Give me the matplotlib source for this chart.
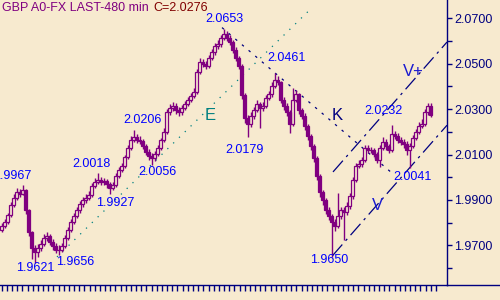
import numpy as np
import matplotlib.pyplot as plt
from matplotlib.lines import Line2D

# GBP A0-FX LAST, 480 min candles
opens = [1.9770, 1.9786, 1.9804, 1.9834, 1.9878, 1.9909, 1.9935, 1.9927, 1.9944, 1.9856, 1.9759, 1.9689,
         1.9671, 1.9689, 1.9706, 1.9733, 1.9742, 1.9715, 1.9698, 1.9680, 1.9680, 1.9698, 1.9733, 1.9768,
         1.9804, 1.9830, 1.9856, 1.9882, 1.9900, 1.9909, 1.9922, 1.9962, 1.9979, 1.9988, 1.9979, 1.9984,
         1.9970, 1.9953, 1.9966, 2.0006, 2.0032, 2.0050, 2.0089, 2.0129, 2.0164, 2.0177, 2.0164, 2.0160,
         2.0138, 2.0111, 2.0094, 2.0085, 2.0102, 2.0129, 2.0164, 2.0199, 2.0287, 2.0305, 2.0314, 2.0296,
         2.0287, 2.0305, 2.0322, 2.0340, 2.0358, 2.0375, 2.0463, 2.0507, 2.0498, 2.0490, 2.0525, 2.0551,
         2.0578, 2.0586, 2.0613, 2.0630, 2.0613, 2.0595, 2.0560, 2.0525, 2.0490, 2.0362, 2.0261, 2.0234,
         2.0270, 2.0296, 2.0322, 2.0305, 2.0314, 2.0349, 2.0366, 2.0402, 2.0428, 2.0419, 2.0340, 2.0314,
         2.0287, 2.0234, 2.0340, 2.0366, 2.0296, 2.0270, 2.0226, 2.0182, 2.0138, 2.0085, 2.0006, 1.9935,
         1.9900, 1.9856, 1.9830, 1.9804, 1.9786, 1.9830, 1.9856, 1.9847, 1.9874, 1.9918, 1.9988, 2.0050,
         2.0058, 2.0076, 2.0129, 2.0120, 2.0120, 2.0102, 2.0076, 2.0129, 2.0155, 2.0138, 2.0120, 2.0190,
         2.0182, 2.0164, 2.0155, 2.0146, 2.0120, 2.0138, 2.0173, 2.0199, 2.0226, 2.0234, 2.0287, 2.0314]
closes = [1.9786, 1.9804, 1.9834, 1.9878, 1.9909, 1.9935, 1.9927, 1.9944, 1.9856, 1.9759, 1.9689, 1.9671,
          1.9689, 1.9706, 1.9733, 1.9742, 1.9715, 1.9698, 1.9680, 1.9680, 1.9698, 1.9733, 1.9768, 1.9804,
          1.9830, 1.9856, 1.9882, 1.9900, 1.9909, 1.9922, 1.9962, 1.9979, 1.9988, 1.9979, 1.9984, 1.9970,
          1.9953, 1.9966, 2.0006, 2.0032, 2.0050, 2.0089, 2.0129, 2.0164, 2.0177, 2.0164, 2.0160, 2.0138,
          2.0111, 2.0094, 2.0085, 2.0102, 2.0129, 2.0164, 2.0199, 2.0287, 2.0305, 2.0314, 2.0296, 2.0287,
          2.0305, 2.0322, 2.0340, 2.0358, 2.0375, 2.0463, 2.0507, 2.0498, 2.0490, 2.0525, 2.0551, 2.0578,
          2.0586, 2.0613, 2.0630, 2.0613, 2.0595, 2.0560, 2.0525, 2.0490, 2.0362, 2.0261, 2.0234, 2.0270,
          2.0296, 2.0322, 2.0305, 2.0314, 2.0349, 2.0366, 2.0402, 2.0428, 2.0419, 2.0340, 2.0314, 2.0287,
          2.0234, 2.0340, 2.0366, 2.0296, 2.0270, 2.0226, 2.0182, 2.0138, 2.0085, 2.0006, 1.9935, 1.9900,
          1.9856, 1.9830, 1.9804, 1.9786, 1.9830, 1.9856, 1.9847, 1.9874, 1.9918, 1.9988, 2.0050, 2.0058,
          2.0076, 2.0129, 2.0120, 2.0120, 2.0102, 2.0076, 2.0129, 2.0155, 2.0138, 2.0120, 2.0190, 2.0182,
          2.0164, 2.0155, 2.0146, 2.0120, 2.0138, 2.0173, 2.0199, 2.0226, 2.0234, 2.0287, 2.0314, 2.0276]
highs = [1.9800, 1.9818, 1.9845, 1.9890, 1.9925, 1.9955, 1.9950, 1.9967, 1.9950, 1.9862, 1.9765, 1.9700,
         1.9705, 1.9722, 1.9752, 1.9760, 1.9750, 1.9728, 1.9712, 1.9700, 1.9712, 1.9745, 1.9780, 1.9815,
         1.9842, 1.9870, 1.9895, 1.9915, 1.9925, 1.9940, 1.9975, 1.9995, 2.0018, 2.0000, 1.9998, 1.9992,
         1.9978, 1.9980, 2.0018, 2.0045, 2.0065, 2.0100, 2.0142, 2.0180, 2.0206, 2.0192, 2.0182, 2.0170,
         2.0145, 2.0125, 2.0105, 2.0115, 2.0140, 2.0175, 2.0215, 2.0300, 2.0322, 2.0330, 2.0325, 2.0308,
         2.0318, 2.0335, 2.0352, 2.0370, 2.0392, 2.0478, 2.0525, 2.0520, 2.0510, 2.0538, 2.0565, 2.0592,
         2.0605, 2.0628, 2.0653, 2.0645, 2.0625, 2.0605, 2.0572, 2.0535, 2.0498, 2.0370, 2.0275, 2.0285,
         2.0310, 2.0338, 2.0332, 2.0330, 2.0362, 2.0380, 2.0418, 2.0461, 2.0445, 2.0425, 2.0352, 2.0325,
         2.0295, 2.0393, 2.0385, 2.0372, 2.0305, 2.0282, 2.0235, 2.0190, 2.0145, 2.0092, 2.0015, 1.9945,
         1.9910, 1.9868, 1.9840, 1.9815, 1.9930, 1.9870, 1.9868, 1.9890, 1.9930, 2.0002, 2.0065, 2.0075,
         2.0090, 2.0142, 2.0140, 2.0135, 2.0130, 2.0110, 2.0140, 2.0177, 2.0168, 2.0148, 2.0232, 2.0205,
         2.0195, 2.0178, 2.0170, 2.0158, 2.0150, 2.0188, 2.0212, 2.0242, 2.0255, 2.0300, 2.0328, 2.0325]
lows = [1.9760, 1.9775, 1.9795, 1.9825, 1.9868, 1.9900, 1.9915, 1.9920, 1.9840, 1.9740, 1.9640, 1.9621,
        1.9650, 1.9675, 1.9698, 1.9720, 1.9700, 1.9680, 1.9665, 1.9656, 1.9670, 1.9690, 1.9725, 1.9760,
        1.9795, 1.9820, 1.9845, 1.9870, 1.9888, 1.9900, 1.9915, 1.9955, 1.9970, 1.9965, 1.9968, 1.9955,
        1.9927, 1.9942, 1.9958, 1.9998, 2.0022, 2.0040, 2.0080, 2.0120, 2.0155, 2.0150, 2.0145, 2.0125,
        2.0098, 2.0078, 2.0056, 2.0072, 2.0095, 2.0120, 2.0155, 2.0190, 2.0275, 2.0292, 2.0280, 2.0270,
        2.0275, 2.0295, 2.0312, 2.0330, 2.0348, 2.0368, 2.0455, 2.0485, 2.0475, 2.0482, 2.0515, 2.0540,
        2.0565, 2.0575, 2.0602, 2.0600, 2.0580, 2.0545, 2.0510, 2.0475, 2.0345, 2.0240, 2.0179, 2.0222,
        2.0258, 2.0285, 2.0215, 2.0292, 2.0305, 2.0338, 2.0355, 2.0392, 2.0405, 2.0325, 2.0298, 2.0270,
        2.0195, 2.0225, 2.0330, 2.0280, 2.0255, 2.0210, 2.0165, 2.0120, 2.0068, 1.9990, 1.9915, 1.9880,
        1.9838, 1.9812, 1.9650, 1.9765, 1.9775, 1.9815, 1.9724, 1.9832, 1.9862, 1.9905, 1.9978, 2.0040,
        2.0045, 2.0068, 2.0105, 2.0105, 2.0088, 2.0062, 2.0045, 2.0120, 2.0122, 2.0105, 2.0112, 2.0168,
        2.0150, 2.0140, 2.0130, 2.0100, 2.0041, 2.0128, 2.0165, 2.0190, 2.0215, 2.0225, 2.0275, 2.0265]

# trend lines: two anchor bars (index, price)
line_e = [(19, 1.9656), (50, 2.0056)]
line_k = [(74, 2.0653), (91, 2.0461)]
line_v = [(110, 1.9650), (136, 2.0041)]
channel_width = 0.0366

# swing labels: text, pixel position
swing_labels = [('2.0653', 224, 19), ('2.0461', 287, 58), ('2.0206', 143, 120),
                ('2.0179', 245, 150), ('1.9967', 31, 176), ('2.0018', 91, 164),
                ('1.9927', 115, 203), ('2.0056', 157, 172), ('1.9621', 35, 268),
                ('1.9656', 75, 262), ('1.9650', 329, 260), ('2.0232', 383, 111),
                ('2.0041', 412, 177)]

bg = '#F7EACF'
purple = '#800080'
navy = '#000080'
W, H = 500, 300

fig = plt.figure(figsize=(5, 3), dpi=100, facecolor=bg)
ax = fig.add_axes([0, 15 / H, 447 / W, 285 / H], facecolor=bg)

o = np.array(opens); c = np.array(closes)
hi = np.array(highs); lo = np.array(lows)
idx = np.arange(len(c))
up = c >= o

ax.vlines(idx, lo, hi, color=purple, lw=1.0, zorder=2)
ax.bar(idx[up], np.maximum(c[up] - o[up], 0.0002), bottom=o[up], width=0.9,
       facecolor=bg, edgecolor=purple, lw=0.9, zorder=3)
ax.bar(idx[~up], o[~up] - c[~up], bottom=c[~up], width=0.9,
       facecolor=purple, edgecolor=purple, lw=0.9, zorder=3)

def trend(anchors, x0, x1, shift=0.0):
    (ia, pa), (ib, pb) = anchors
    slope = (pb - pa) / (ib - ia)
    xs = np.array([x0, x1])
    return xs, pa + slope * (xs - ia) + shift

xs, ys = trend(line_e, 18.5, 102.8)
ax.plot(xs, ys, color='#008080', lw=0.9, linestyle=(0, (1, 5.5)), zorder=1)
xs, ys = trend(line_k, 73.5, 131)
ax.plot(xs, ys, color=navy, lw=0.9, linestyle=(0, (2, 5)), zorder=1)
xs, ys = trend(line_v, 110.3, 148.5)
ax.plot(xs, ys, color=navy, lw=0.9, linestyle=(0, (12, 4, 2, 4)), zorder=1)
xs, ys = trend(line_v, 110.5, 148.5, channel_width)
ax.plot(xs, ys, color=navy, lw=0.9, linestyle=(0, (12, 4, 2, 4)), zorder=1)

ax.set_xlim(-0.5, 148.5)
ax.set_ylim(1.9526, 2.0780)

# axes look
for s in ('left', 'top'):
    ax.spines[s].set_visible(False)
for s in ('right', 'bottom'):
    ax.spines[s].set_color(navy)
    ax.spines[s].set_linewidth(1.0)
fig.add_artist(Line2D([447 / W, 1], [15 / H, 15 / H], color=navy, lw=1.0))

ax.yaxis.tick_right()
ax.set_yticks([1.97, 1.99, 2.01, 2.03, 2.05, 2.07])
ax.set_yticklabels(['1.9700', '1.9900', '2.0100', '2.0300', '2.0500', '2.0700'])
ax.set_yticks([1.96, 1.98, 2.00, 2.02, 2.04, 2.06], minor=True)
ax.tick_params(axis='y', which='both', direction='out', length=3.5, width=1,
               color=navy, labelcolor=navy, labelsize=9, pad=1.5)
for t in ax.get_yticklabels():
    t.set_family('Liberation Sans')

ax.set_xticks((np.arange(1.7, 440, 5.17) - 1.5) / 3)
ax.set_xticklabels([])
ax.tick_params(axis='x', direction='out', length=4.5, width=1, color=navy)

def ftext(px, py, s, **kw):
    fig.text(px / W, 1 - py / H, s, family='Liberation Sans', **kw)

ftext(2, 8, 'GBP A0-FX LAST-480 min', color=purple, fontsize=9, va='center')
ftext(153, 8, 'C=2.0276', color='#800000', fontsize=9, va='center')
for s, px, py in swing_labels:
    ha = 'right' if s == '1.9967' else 'center'
    ftext(px, py, s, color='#0000FF', fontsize=9, ha=ha, va='center')

ftext(210, 115, 'E', color='#008080', fontsize=12, ha='center', va='center')
ftext(337, 115, 'K', color=navy, fontsize=12, ha='center', va='center')
ftext(413, 71, 'V+', color='#1A1AD0', fontsize=12, ha='center', va='center')
ftext(377, 205, 'V', color='#1A1AD0', fontsize=12, ha='center', va='center')

fig.savefig('out.png', dpi=100, facecolor=bg)
